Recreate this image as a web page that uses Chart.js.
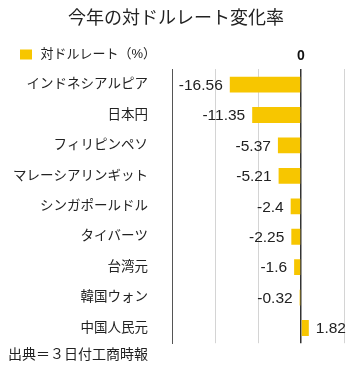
<!DOCTYPE html>
<html lang="ja">
<head>
<meta charset="utf-8">
<script src="https://cdn.jsdelivr.net/npm/chart.js@4.4.1/dist/chart.umd.min.js"></script>
<style>
  html, body { margin: 0; padding: 0; background: #fff; }
  #wrap { width: 350px; height: 367px; }
</style>
</head>
<body>
<div id="wrap"><canvas id="rateChart"></canvas></div>
<script>
// Data
const currencies = ['インドネシアルピア', '日本円', 'フィリピンペソ', 'マレーシアリンギット', 'シンガポールドル', 'タイバーツ', '台湾元', '韓国ウォン', '中国人民元'];
const rateChange = [-16.56, -11.35, -5.37, -5.21, -2.4, -2.25, -1.6, -0.32, 1.82];
const seriesName = '対ドルレート（%）';
const axisMin = -30;
const axisMax = 10;
const shownTicks = [0];

const FONT = "'Liberation Sans', 'Noto Sans CJK JP', sans-serif";
const BAR_COLOR = '#F7C600';

// Writes the value next to the end of each bar
const valueLabels = {
    id: 'valueLabels',
    afterDatasetsDraw(chart) {
        const ctx = chart.ctx;
        const meta = chart.getDatasetMeta(0);
        ctx.save();
        ctx.font = '15.5px ' + FONT;
        ctx.fillStyle = '#222';
        ctx.textBaseline = 'middle';
        meta.data.forEach((bar, i) => {
            const v = rateChange[i];
            if (v < 0) {
                ctx.textAlign = 'right';
                ctx.fillText(String(v), bar.x - 7, bar.y + 1);
            } else {
                ctx.textAlign = 'left';
                ctx.fillText(String(v), bar.x + 7, bar.y + 1);
            }
        });
        ctx.restore();
    }
};

// Lets the legend row share its line with the top axis label "0":
// the legend takes little room in the layout, then gets its full box back for drawing
const legendOverlap = {
    id: 'legendOverlap',
    afterInit(chart) {
        const lg = chart.legend;
        if (!lg) return;
        const fit = lg.fit;
        lg.fit = function () {
            fit.call(this);
            this._fullHeight = this.height;
            this.height = 5;
        };
    },
    afterLayout(chart) {
        const lg = chart.legend;
        if (!lg || !lg._fullHeight) return;
        lg.height = lg._fullHeight;
        lg.bottom = lg.top + lg._fullHeight;
    }
};

const ctx = document.getElementById('rateChart').getContext('2d');
new Chart(ctx, {
    type: 'bar',
    data: {
        labels: currencies,
        datasets: [{
            label: seriesName,
            data: rateChange,
            backgroundColor: BAR_COLOR,
            borderWidth: 0,
            categoryPercentage: 1,
            barPercentage: 0.52
        }]
    },
    options: {
        indexAxis: 'y',
        responsive: true,
        maintainAspectRatio: false,
        animation: false,
        layout: { padding: { left: 8, right: 6, top: 0, bottom: 0 } },
        plugins: {
            title: {
                display: true,
                text: '今年の対ドルレート変化率',
                color: '#222',
                font: { family: FONT, size: 18, weight: 'normal' },
                padding: { top: 8, bottom: 8 }
            },
            subtitle: {
                display: true,
                position: 'bottom',
                align: 'start',
                text: '出典＝３日付工商時報',
                color: '#222',
                font: { family: FONT, size: 14, weight: 'normal' },
                padding: { top: 4, bottom: 3 }
            },
            legend: {
                display: true,
                position: 'top',
                align: 'start',
                labels: {
                    // white frame trims the box to about 12x10 and leaves a wider gap before the text
                    boxWidth: 16,
                    boxHeight: 14,
                    color: '#222',
                    padding: 10,
                    font: { family: FONT, size: 13 },
                    generateLabels: (chart) => Chart.defaults.plugins.legend.labels.generateLabels(chart)
                        .map(item => ({ ...item, strokeStyle: '#fff', lineWidth: 4 }))
                }
            },
            tooltip: { enabled: false }
        },
        scales: {
            x: {
                position: 'top',
                min: axisMin,
                max: axisMax,
                ticks: {
                    stepSize: 10,
                    color: '#111',
                    padding: 5,
                    maxRotation: 0,
                    autoSkip: false,
                    font: { family: FONT, size: 14, weight: 'bold' },
                    callback: (value) => shownTicks.includes(value) ? String(value) : ''
                },
                grid: {
                    drawTicks: false,
                    color: (c) => c.tick && c.tick.value === 0 ? '#333' : '#d4d4d4',
                    lineWidth: (c) => c.tick && c.tick.value === 0 ? 1.5 : 1
                },
                border: { display: false }
            },
            y: {
                ticks: {
                    color: '#222',
                    padding: 24,
                    font: { family: FONT, size: 13.5 }
                },
                grid: { display: false, drawTicks: false },
                border: { display: true, color: '#555', width: 1 },
                afterFit: (scale) => {
                    scale.width = 164;
                    scale.paddingTop = 0;
                    scale.paddingBottom = 0;
                }
            }
        }
    },
    plugins: [valueLabels, legendOverlap]
});
</script>
</body>
</html>
